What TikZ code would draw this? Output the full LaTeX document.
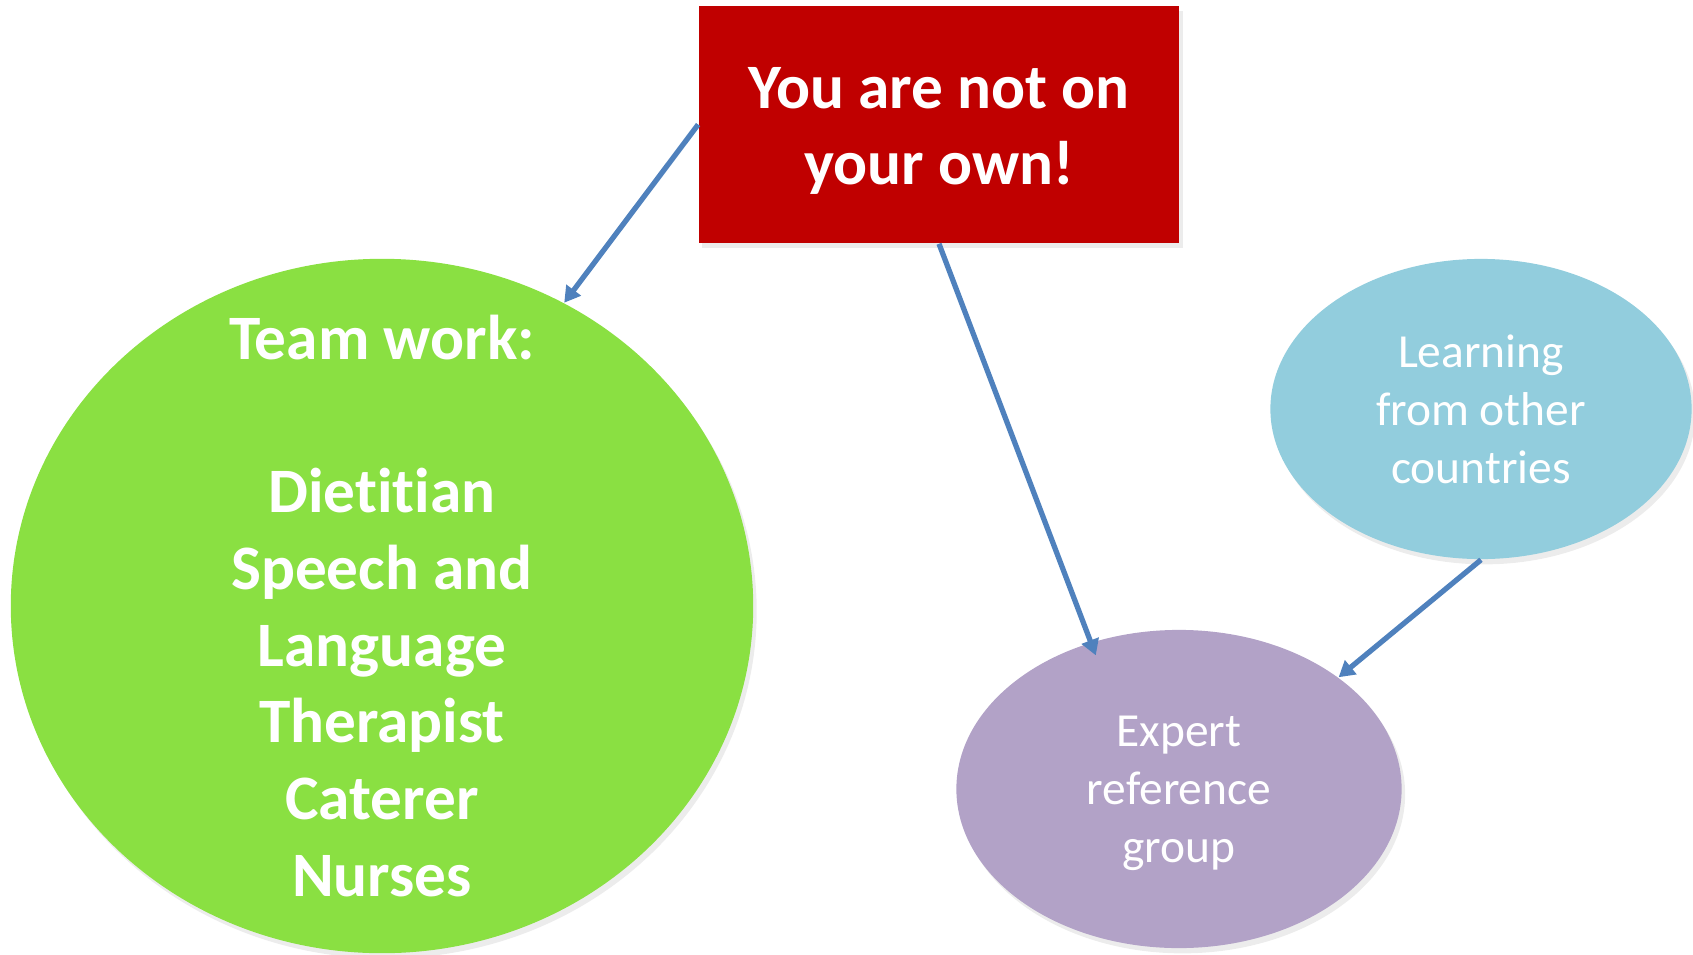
\documentclass[tikz,border=0pt]{standalone}
\usepackage{fontspec}
\setmainfont{Carlito}[Ligatures=NoCommon]
\usetikzlibrary{arrows.meta}
\usetikzlibrary{shapes.geometric,shadows}
\definecolor{boxred}{RGB}{192,0,0}
\definecolor{teamgreen}{RGB}{138,224,66}
\definecolor{learnblue}{RGB}{146,205,221}
\definecolor{expertpurple}{RGB}{178,162,199}
\definecolor{linkblue}{RGB}{79,129,189}

\begin{document}
\begin{tikzpicture}[x=0.01cm,y=-0.01cm]
    \tikzset{oval/.style = {shape=ellipse, draw=none, inner sep=0pt, drop shadow={opacity=0.15, shadow xshift=1pt, shadow yshift=-1.5pt}}}
    \tikzset{bigtext/.style = {text=white, align=center, font=\bfseries\fontsize{18}{21.8}\selectfont}}
    \tikzset{smalltext/.style = {text=white, align=center, font=\fontsize{13.5}{16.5}\selectfont}}
    \tikzset{link/.style = {draw=linkblue, line width=1.5pt, -{Triangle[length=4.5pt,width=5pt]}}}

    \useasboundingbox (0,0) rectangle (1693,954);

    % vertices
    \node[oval, fill=teamgreen, minimum width=7.42cm, minimum height=6.94cm] (team) at (382,606) {};
    \node[oval, fill=learnblue, minimum width=4.21cm, minimum height=3.0cm] (learn) at (1481,409) {};
    \node[oval, fill=expertpurple, minimum width=4.45cm, minimum height=3.18cm] (expert) at (1179,789) {};
    \node[bigtext, fill=boxred, minimum width=4.8cm, minimum height=2.37cm,
          drop shadow={opacity=0.15, shadow xshift=1pt, shadow yshift=-1.5pt}] (box) at (939,124.5) {};

    % texts
    \node[bigtext] (boxtxt) at (939,131) {You are not on\\your own!};
    \node[bigtext] (teamtxt) at (382,606) {Team work:\\[21.8pt]Dietitian\\Speech and\\Language\\Therapist\\Caterer\\Nurses};
    \node[smalltext] (learntxt) at (1481,409) {Learning\\from other\\countries};
    \node[smalltext] (experttxt) at (1179,793) {Expert\\reference\\group};

    % edges
    \draw[link] (box.west) -- (team.59);
    \draw[link, shorten >=-4pt] (box.south) -- (expert.121);
    \draw[link] (learn.south) -- (expert.35);
\end{tikzpicture}
\end{document}
